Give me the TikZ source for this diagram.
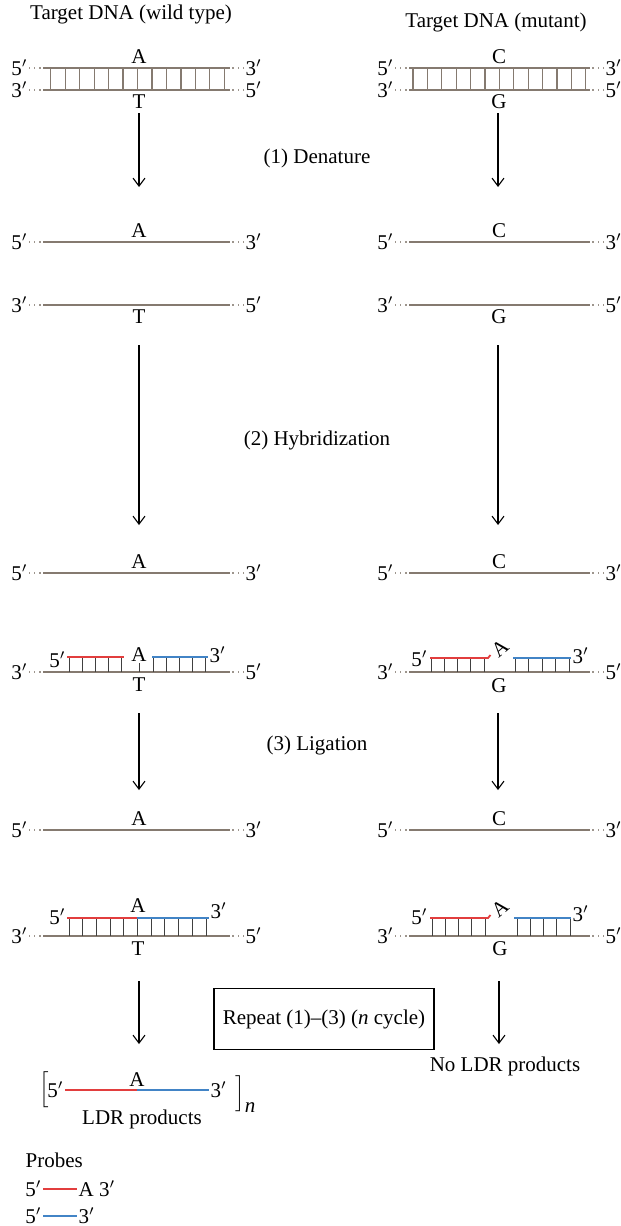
\documentclass[tikz,border=0pt]{standalone}
\usepackage{fontspec}
\setmainfont{Liberation Serif}
\usetikzlibrary{arrows.meta}

\definecolor{dnagray}{RGB}{133,122,112}
\definecolor{probered}{RGB}{226,62,62}
\definecolor{probeblue}{RGB}{66,132,198}

\tikzset{
  strand/.style={dnagray,line width=1.1pt},
  leader/.style={dnagray!80,dotted,line width=0.6pt},
  rung/.style={black!75,line width=0.5pt},
  baserung/.style={dnagray,line width=0.6pt},
  redprobe/.style={probered,line width=0.9pt},
  blueprobe/.style={probeblue,line width=0.9pt},
  lbl/.style={font=\fontsize{10.5}{12}\selectfont,inner sep=0.6pt},
  steparrow/.style={-{Straight Barb[length=4pt,width=6pt]},line width=0.55pt}
}

% target strand: name, x start, length, y, left label, right label
\newcommand{\TargetStrand}[6]{%
  \draw[strand] (#2,#4) coordinate (#1w) -- (#2+#3,#4) coordinate (#1e);
  \node[lbl,anchor=east] (#1l) at (#2-14,#4) {#5};
  \node[lbl,anchor=west] (#1r) at (#2+#3+14,#4) {#6};
  \draw[leader] (#1l.east) -- (#1w);
  \draw[leader] (#1r.west) -- (#1e);
}

\begin{document}
\begin{tikzpicture}[x=0.5pt,y=-0.5pt]
  \useasboundingbox (0,0) rectangle (621,1226);

  % titles
  \node[lbl] (titleWT) at (131,14) {Target DNA (wild type)};
  \node[lbl] (titleMT) at (496,22) {Target DNA (mutant)};

  % double strands
  \newcommand{\Lx}{43}
  \newcommand{\Lw}{187}
  \newcommand{\Rx}{409}
  \newcommand{\Rw}{181}
  \TargetStrand{wtTop}{\Lx}{\Lw}{68}{5$'$}{3$'$}
  \TargetStrand{wtBot}{\Lx}{\Lw}{90}{3$'$}{5$'$}
  \foreach \i in {0,...,12}
    \draw[baserung] (50.7+\i*14.47,68) -- (50.7+\i*14.47,90);
  \node[lbl,anchor=south] (wtA1) at (139,65) {A};
  \node[lbl,anchor=north] (wtT1) at (139,93) {T};

  \TargetStrand{mtTop}{\Rx}{\Rw}{68}{5$'$}{3$'$}
  \TargetStrand{mtBot}{\Rx}{\Rw}{90}{3$'$}{5$'$}
  \foreach \i in {0,...,12}
    \draw[baserung] (413+\i*14.4,68) -- (413+\i*14.4,90);
  \node[lbl,anchor=south] (mtC1) at (499,65) {C};
  \node[lbl,anchor=north] (mtG1) at (499,93) {G};

  % (1) denature
  \coordinate (wtArr1a) at (139,113);
  \coordinate (wtArr1b) at (139,187);
  \coordinate (mtArr1a) at (498,113);
  \coordinate (mtArr1b) at (498,187);
  \draw[steparrow] (wtArr1a) -- (wtArr1b);
  \draw[steparrow] (mtArr1a) -- (mtArr1b);
  \node[lbl] (stepDen) at (317,158) {(1) Denature};

  % separated strands
  \TargetStrand{wtSep}{\Lx}{\Lw}{242}{5$'$}{3$'$}
  \node[lbl,anchor=south] (wtA2) at (139,239) {A};
  \TargetStrand{wtSepB}{\Lx}{\Lw}{305}{3$'$}{5$'$}
  \node[lbl,anchor=north] (wtT2) at (139,308) {T};
  \TargetStrand{mtSep}{\Rx}{\Rw}{242}{5$'$}{3$'$}
  \node[lbl,anchor=south] (mtC2) at (499,239) {C};
  \TargetStrand{mtSepB}{\Rx}{\Rw}{305}{3$'$}{5$'$}
  \node[lbl,anchor=north] (mtG2) at (499,308) {G};

  % (2) hybridization
  \coordinate (wtArr2a) at (139,345);
  \coordinate (wtArr2b) at (139,525);
  \coordinate (mtArr2a) at (498,345);
  \coordinate (mtArr2b) at (498,525);
  \draw[steparrow] (wtArr2a) -- (wtArr2b);
  \draw[steparrow] (mtArr2a) -- (mtArr2b);
  \node[lbl] (stepHyb) at (317,440) {(2) Hybridization};

  \TargetStrand{wtHyb}{\Lx}{\Lw}{573}{5$'$}{3$'$}
  \node[lbl,anchor=south] (wtA3) at (139,570) {A};
  \TargetStrand{mtHyb}{\Rx}{\Rw}{573}{5$'$}{3$'$}
  \node[lbl,anchor=south] (mtC3) at (499,570) {C};

  % probes on wild type
  \TargetStrand{wtHybB}{\Lx}{\Lw}{672}{3$'$}{5$'$}
  \foreach \i in {0,...,4} {
    \draw[rung] (69+\i*13,657) -- (69+\i*13,672);
    \draw[rung] (153+\i*13,657) -- (153+\i*13,672);
  }
  \draw[redprobe] (67,657) -- (124,657);
  \draw[blueprobe] (152,657) -- (208,657);
  \node[lbl,anchor=east] (wtP5) at (67,660) {5$'$};
  \node[lbl,anchor=west] (wtP3) at (208,655) {3$'$};
  \node[lbl,anchor=south] (wtA4) at (139,663) {A};
  \draw[rung] (wtA4.south) -- (139,672);
  \node[lbl,anchor=north] (wtT4) at (139,676) {T};

  % probes on mutant
  \TargetStrand{mtHybB}{\Rx}{\Rw}{672}{3$'$}{5$'$}
  \foreach \i in {0,...,4} {
    \draw[rung] (431+\i*13.3,658) -- (431+\i*13.3,672);
    \draw[rung] (515+\i*13.5,658) -- (515+\i*13.5,672);
  }
  \draw[redprobe] (430,658) -- (488,658) -- ++(2.5,-3);
  \draw[blueprobe] (513,658) -- (571,658);
  \node[lbl,anchor=east] (mtP5) at (429,659) {5$'$};
  \node[lbl,anchor=west] (mtP3) at (571,656) {3$'$};
  \node[lbl,rotate=40] (mtA4) at (500,648) {A};
  \node[lbl,anchor=north] (mtG4) at (499,677) {G};

  % (3) ligation
  \coordinate (wtArr3a) at (139,713);
  \coordinate (wtArr3b) at (139,790);
  \coordinate (mtArr3a) at (498,713);
  \coordinate (mtArr3b) at (498,790);
  \draw[steparrow] (wtArr3a) -- (wtArr3b);
  \draw[steparrow] (mtArr3a) -- (mtArr3b);
  \node[lbl] (stepLig) at (317,745) {(3) Ligation};

  \TargetStrand{wtLig}{\Lx}{\Lw}{830}{5$'$}{3$'$}
  \node[lbl,anchor=south] (wtA5) at (139,827) {A};
  \TargetStrand{mtLig}{\Rx}{\Rw}{830}{5$'$}{3$'$}
  \node[lbl,anchor=south] (mtC5) at (499,827) {C};

  % ligated probe on wild type
  \TargetStrand{wtLigB}{\Lx}{\Lw}{936}{3$'$}{5$'$}
  \foreach \i in {0,...,10}
    \draw[rung] (69.3+\i*13.67,918) -- (69.3+\i*13.67,936);
  \draw[redprobe] (67,918) -- (137,918);
  \draw[blueprobe] (137,918) -- (209,918);
  \node[lbl,anchor=east] (wtL5) at (67,917) {5$'$};
  \node[lbl,anchor=west] (wtL3) at (209,911) {3$'$};
  \node[lbl,anchor=south] (wtA6) at (138,914) {A};
  \node[lbl,anchor=north] (wtT6) at (138,940) {T};

  % unligated probes on mutant
  \TargetStrand{mtLigB}{\Rx}{\Rw}{936}{3$'$}{5$'$}
  \foreach \i in {0,...,4} {
    \draw[rung] (432+\i*13.3,918) -- (432+\i*13.3,936);
    \draw[rung] (517+\i*13.3,918) -- (517+\i*13.3,936);
  }
  \draw[redprobe] (430,918) -- (488,918) -- ++(2.5,-3);
  \draw[blueprobe] (514,918) -- (571,918);
  \node[lbl,anchor=east] (mtL5) at (429,917) {5$'$};
  \node[lbl,anchor=west] (mtL3) at (571,914) {3$'$};
  \node[lbl,rotate=40] (mtA6) at (500,908) {A};
  \node[lbl,anchor=north] (mtG6) at (500,940) {G};

  % repeat
  \coordinate (wtArr4a) at (139,981);
  \coordinate (wtArr4b) at (139,1044);
  \coordinate (mtArr4a) at (499,981);
  \coordinate (mtArr4b) at (499,1044);
  \draw[steparrow] (wtArr4a) -- (wtArr4b);
  \draw[steparrow] (mtArr4a) -- (mtArr4b);
  \node[lbl,draw,line width=0.7pt,minimum width=110pt,minimum height=30.5pt] (repeatBox) at (324,1019) {Repeat (1)--(3) (\textit{n} cycle)};

  % products
  \node[lbl] (noLDR) at (505,1066) {No LDR products};
  \node[lbl] (brOpen) at (44,1090) {$\Big[$};
  \node[lbl,anchor=east] (ldr5) at (65,1090) {5$'$};
  \draw[redprobe] (65,1090) -- (137,1090);
  \draw[blueprobe] (137,1090) -- (209,1090);
  \node[lbl,anchor=west] (ldr3) at (209,1090) {3$'$};
  \node[lbl,anchor=south] (ldrA) at (137,1088) {A};
  \node[lbl,anchor=west,inner sep=0pt] (brClose) at (235,1094) {$\Big]_{\textit{n}}$};
  \node[lbl] (ldrText) at (142,1119) {LDR products};

  % legend
  \node[lbl,anchor=west] (probeHead) at (24,1160) {Probes};
  \node[lbl,anchor=east] (leg5a) at (43,1189) {5$'$};
  \draw[redprobe] (43,1189) -- (77,1189);
  \node[lbl,anchor=west] (leg3a) at (77,1189) {A 3$'$};
  \node[lbl,anchor=east] (leg5b) at (43,1216) {5$'$};
  \draw[blueprobe] (43,1216) -- (77,1216);
  \node[lbl,anchor=west] (leg3b) at (77,1216) {3$'$};
\end{tikzpicture}
\end{document}
